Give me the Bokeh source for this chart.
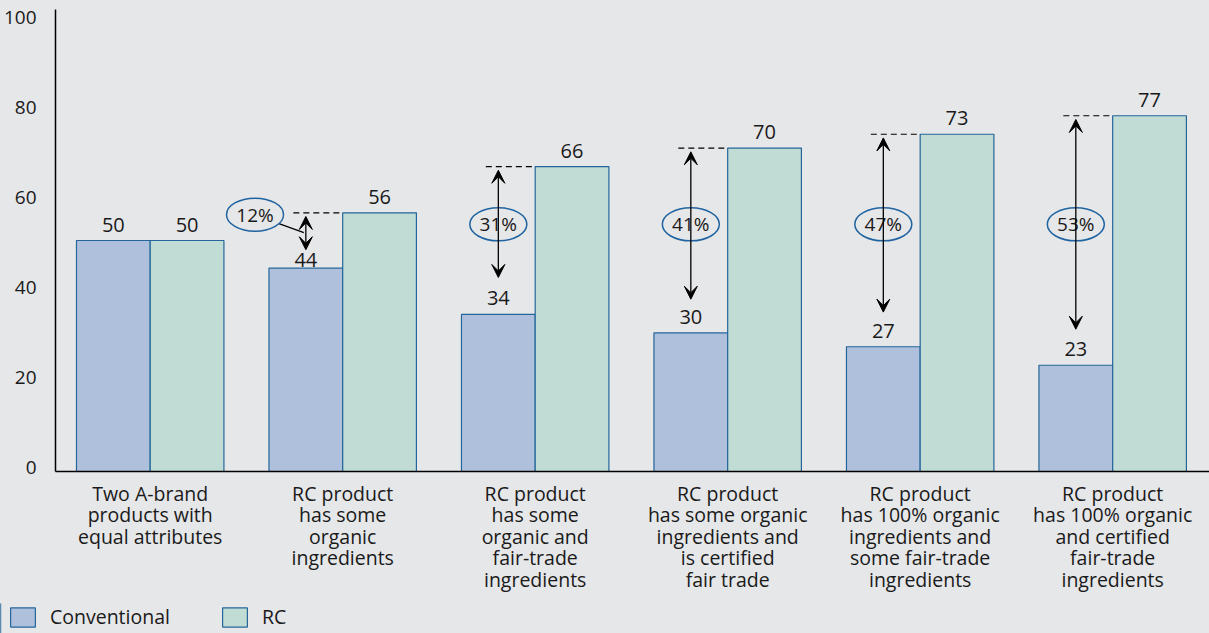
from bokeh.plotting import figure
from bokeh.models import (ColumnDataSource, Range1d, FixedTicker, Arrow, VeeHead,
                          Legend, LegendItem, LinearAxis)
from bokeh.layouts import column
from bokeh.core.properties import value
from bokeh.embed import file_html
from bokeh.resources import INLINE

# ---------------- data ----------------
categories = [
    "Two A-brand\nproducts with\nequal attributes",
    "RC product\nhas some\norganic\ningredients",
    "RC product\nhas some\norganic and\nfair-trade\ningredients",
    "RC product\nhas some organic\ningredients and\nis certified\nfair trade",
    "RC product\nhas 100% organic\ningredients and\nsome fair-trade\ningredients",
    "RC product\nhas 100% organic\nand certified\nfair-trade\ningredients",
]
conventional = [50, 44, 34, 30, 27, 23]
rc = [50, 56, 66, 70, 73, 77]
premium_pct = ["12%", "31%", "41%", "47%", "53%"]      # for categories 1..5
arrow_bottom = [48, 42, 37.3, 34.5, 30.8]               # lower arrow tips
y_ticks = [0, 20, 40, 60, 80, 100]
series = ["Conventional", "RC"]

# ---------------- style ----------------
BG = "#e6e7e9"
CONV_FILL = "#aec0db"
RC_FILL = "#c1dcd5"
OUTLINE = "#24659a"
ELLIPSE_LINE = "#1f64a0"
TXT = "#1a1a1a"
FONT = "Open Sans"
W = 0.383

idx = list(range(len(categories)))
conv_x = [i - W / 2 for i in idx]
rc_x = [i + W / 2 for i in idx]

p = figure(width=1209, height=603, output_backend="svg", toolbar_location=None,
           x_range=Range1d(-0.492, 5.503), y_range=Range1d(0, 100),
           y_axis_location=None,
           min_border_left=53, min_border_right=0, min_border_top=9,
           min_border_bottom=132)
p.background_fill_color = BG
p.border_fill_color = BG
p.outline_line_color = None
p.xgrid.visible = False
p.ygrid.visible = False
p.frame_align = False

# value-label offsets (the 44 label sits lower, below its arrow tip)
conv_lab_off = [-16, -8, -16, -16, -16, -16]
src_c = ColumnDataSource(dict(x=conv_x, top=conventional, off=conv_lab_off,
                              lab=[str(v) for v in conventional]))
src_r = ColumnDataSource(dict(x=rc_x, top=rc, off=[-16] * len(rc),
                              lab=[str(v) for v in rc]))

p.vbar(x="x", top="top", bottom=0, width=W, source=src_c,
       fill_color=CONV_FILL, line_color=OUTLINE, line_width=1.2)
p.vbar(x="x", top="top", bottom=0, width=W, source=src_r,
       fill_color=RC_FILL, line_color=OUTLINE, line_width=1.2)

for s in (src_c, src_r):
    p.text(x="x", y="top", text="lab", source=s, text_align="center",
           text_baseline="alphabetic", y_offset="off", text_font=value(FONT),
           text_font_size="20px", text_color=TXT)

# ---------------- annotations ----------------
ann_i = idx[1:]
a_x = [conv_x[i] for i in ann_i]
a_top = [rc[i] for i in ann_i]
dash_src = ColumnDataSource(dict(x0=[x - 0.065 for x in a_x], y=a_top,
                                 x1=[rc_x[i] - W / 2 for i in ann_i]))
p.segment(x0="x0", y0="y", x1="x1", y1="y", source=dash_src,
          line_color="black", line_width=1.2, line_dash="6 4")

arrow_src = ColumnDataSource(dict(xs=a_x, ys=[t - 0.8 for t in a_top],
                                  xe=a_x, ye=arrow_bottom))
p.add_layout(Arrow(x_start="xs", y_start="ys", x_end="xe", y_end="ye",
                   source=arrow_src, line_color="black", line_width=1.3,
                   start=VeeHead(size=13, fill_color="black", line_color="black"),
                   end=VeeHead(size=13, fill_color="black", line_color="black")))

# ellipse labels (first one sits left of its arrow, with a leader line)
e_x = [a_x[0] - 0.264] + a_x[1:]
e_y = [55.6, 53.5, 53.5, 53.5, 53.5]
p.segment(x0=[e_x[0] + 24 / 193], y0=[e_y[0] - 9 / 4.62],
          x1=[a_x[0] - 2 / 193], y1=[51.7], line_color="black", line_width=1.2)
ell_src = ColumnDataSource(dict(x=e_x, y=e_y, t=premium_pct))
p.ellipse(x="x", y="y", width=57, height=33, width_units="screen",
          height_units="screen", source=ell_src, fill_color=BG,
          line_color=ELLIPSE_LINE, line_width=1.5)
p.text(x="x", y="y", text="t", source=ell_src, text_align="center",
       text_baseline="middle", text_font=value(FONT), text_font_size="19px",
       text_color=TXT)

# ---------------- axes ----------------
# tick labels of the original sit on a slightly compressed scale
p.extra_y_ranges = {"lab": Range1d(-1.0, 101.67)}
ya = LinearAxis(y_range_name="lab", ticker=FixedTicker(ticks=y_ticks))
ya.axis_line_color = "black"
ya.axis_line_width = 1.5
ya.major_tick_line_color = None
ya.minor_tick_line_color = None
ya.major_label_standoff = 13
ya.major_label_text_font = FONT
ya.major_label_text_font_size = "19px"
ya.major_label_text_color = TXT
p.add_layout(ya, "left")

xa = p.xaxis[0]
xa.ticker = FixedTicker(ticks=idx)
xa.major_label_overrides = {i: c for i, c in zip(idx, categories)}
xa.axis_line_color = "black"
xa.axis_line_width = 1.5
xa.major_tick_line_color = None
xa.minor_tick_line_color = None
xa.major_label_standoff = 2
xa.major_label_text_font = FONT
xa.major_label_text_font_size = "19.5px"
xa.major_label_text_color = TXT
xa.major_label_text_line_height = 0.8
xa.major_label_text_align = "center"

# ---------------- legend strip ----------------
q = figure(width=1209, height=30, output_backend="svg", toolbar_location=None,
           x_range=Range1d(0, 1), y_range=Range1d(0, 1),
           x_axis_location=None, y_axis_location=None,
           min_border=0, min_border_left=0, min_border_right=0,
           min_border_top=0, min_border_bottom=0)
q.background_fill_color = BG
q.border_fill_color = BG
q.outline_line_color = None
q.xgrid.visible = False
q.ygrid.visible = False
q.frame_align = False
# swatch renderers, kept outside the visible range
lc = q.vbar(x=[-5], top=[1], width=0.1, fill_color=CONV_FILL, line_color=OUTLINE, line_width=1.2)
lr = q.vbar(x=[-5], top=[1], width=0.1, fill_color=RC_FILL, line_color=OUTLINE, line_width=1.2)
legend = Legend(items=[LegendItem(label=series[0], renderers=[lc]),
                       LegendItem(label=series[1], renderers=[lr])],
                orientation="horizontal", location=(7, 3),
                glyph_width=31, glyph_height=24, label_standoff=12, spacing=49,
                padding=0, margin=0, border_line_color=None,
                background_fill_alpha=0, label_text_font=FONT,
                label_text_font_size="19.5px", label_text_color=TXT)
q.add_layout(legend, "center")

layout = column(p, q, spacing=0, styles={"background-color": BG})
open("out.html", "w").write(file_html(layout, INLINE))
